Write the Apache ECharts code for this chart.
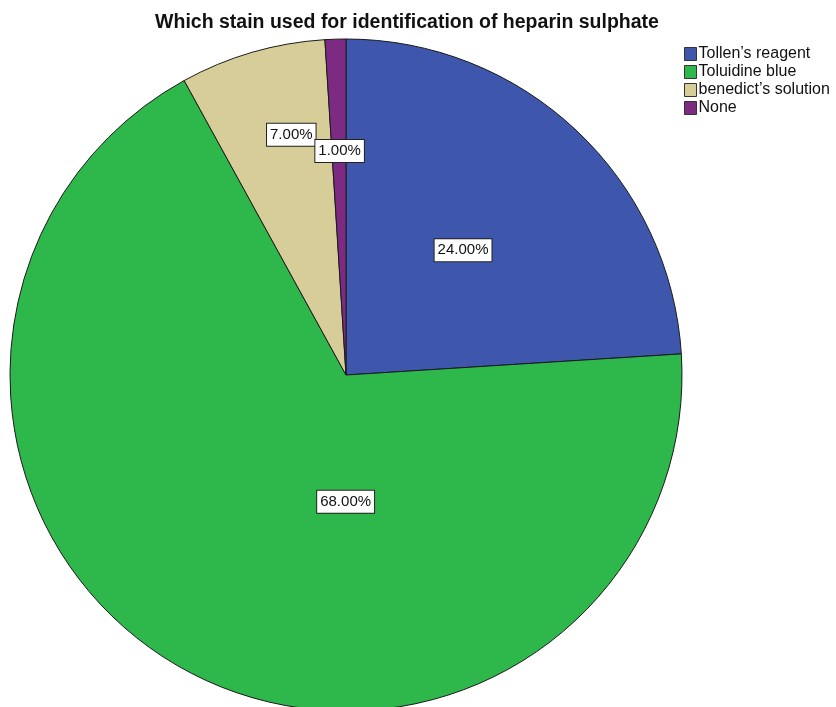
<!DOCTYPE html>
<html>
<head>
<meta charset="utf-8">
<script src="https://cdn.jsdelivr.net/npm/echarts@6/dist/echarts.min.js"></script>
<style>
  html, body { margin: 0; padding: 0; background: #fff; }
  #chart { width: 836px; height: 707px; }
</style>
</head>
<body>
<div id="chart"></div>
<script>
// Answers to the heparin sulphate staining question (percent of respondents)
const categories = ["Tollen\u2019s reagent", "Toluidine blue", "benedict\u2019s solution", "None"];
const percentages = [24, 68, 7, 1];
const sliceColors = ["#3e57ad", "#2eb84b", "#d6cd98", "#7c2a82"];
// nudges (px) that move each percentage box off the default inner spot
const labelNudge = [[0, 0], [82, -23], [-7, -76], [-1, -53]];

const FONT = 'Liberation Sans, Arial, sans-serif';
const chart = echarts.init(document.getElementById('chart'), null, { renderer: 'canvas' });

chart.setOption({
  animation: false,
  title: {
    text: 'Which stain used for identification of heparin sulphate',
    left: 407,
    textAlign: 'center',
    top: 11,
    padding: 0,
    textStyle: { fontFamily: FONT, fontSize: 19.5, fontWeight: 'bold', color: '#111', lineHeight: 24 }
  },
  legend: {
    orient: 'vertical',
    left: 684,
    top: 46,
    padding: 0,
    itemWidth: 12,
    itemHeight: 13,
    itemGap: 2,
    icon: 'rect',
    data: categories,
    itemStyle: { borderColor: '#333', borderWidth: 1 },
    textStyle: { fontFamily: FONT, fontSize: 16, color: '#111', lineHeight: 16, padding: [0, 0, 0, -3] }
  },
  series: [{
    type: 'pie',
    center: [346, 375],
    radius: 336,
    startAngle: 90,
    clockwise: true,
    legendHoverLink: false,
    data: categories.map((name, i) => ({ name, value: percentages[i], itemStyle: { color: sliceColors[i] } })),
    itemStyle: { borderColor: '#1a1a1a', borderWidth: 1 },
    label: {
      show: true,
      position: 'inside',
      formatter: p => p.value.toFixed(2) + '%',
      fontFamily: FONT,
      fontSize: 15,
      color: '#111',
      backgroundColor: '#fff',
      borderColor: '#222',
      borderWidth: 1,
      padding: [4, 3, 3, 3]
    },
    labelLayout: p => ({ dx: labelNudge[p.dataIndex][0], dy: labelNudge[p.dataIndex][1] }),
    emphasis: { disabled: true }
  }]
});
</script>
</body>
</html>
